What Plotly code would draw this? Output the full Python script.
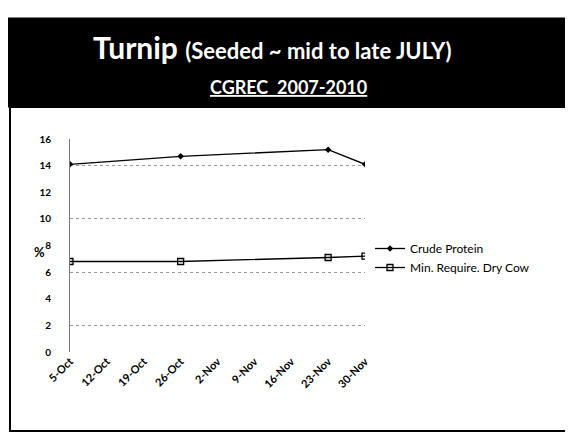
import plotly.graph_objects as go

# sample dates and values
dates = ["2009-10-05", "2009-10-26", "2009-11-23", "2009-11-30"]
crude_protein = [14.1, 14.7, 15.2, 14.1]
min_require = [6.8, 6.8, 7.1, 7.2]

tick_dates = ["2009-10-05", "2009-10-12", "2009-10-19", "2009-10-26", "2009-11-02",
              "2009-11-09", "2009-11-16", "2009-11-23", "2009-11-30"]
tick_text = ["5-Oct", "12-Oct", "19-Oct", "26-Oct", "2-Nov",
             "9-Nov", "16-Nov", "23-Nov", "30-Nov"]

# the page body keeps an 8px margin, so the figure is drawn 8px smaller
OFF = 8
W, H = 573 - OFF, 438 - OFF
FONT = "Lato"

def px_x(x):
    return (x - OFF) / W

def px_y(y):
    return 1 - (y - OFF) / H

fig = go.Figure()

fig.add_trace(go.Scatter(
    x=dates, y=crude_protein, name="Crude Protein",
    mode="lines+markers",
    line=dict(color="black", width=1.3),
    marker=dict(symbol="diamond", size=5, color="black"),
))
fig.add_trace(go.Scatter(
    x=dates, y=min_require, name="Min. Require. Dry Cow",
    mode="lines+markers",
    line=dict(color="black", width=1.3),
    marker=dict(symbol="square-open", size=6, color="black", line=dict(width=1.3)),
))
# invisible trace to carry the gridline axis
fig.add_trace(go.Scatter(x=[dates[0]], y=[0], yaxis="y2", mode="markers",
                         marker=dict(opacity=0), showlegend=False, hoverinfo="skip"))

fig.update_layout(
    width=W, height=H,
    margin=dict(l=0, r=0, t=0, b=0),
    paper_bgcolor="white",
    plot_bgcolor="rgba(0,0,0,0)",
    showlegend=True,
    legend=dict(x=px_x(370), y=px_y(234), xanchor="left", yanchor="top",
                bgcolor="rgba(0,0,0,0)", font=dict(family=FONT, size=12, color="black"),
                itemwidth=30, tracegroupgap=0),
    xaxis=dict(
        domain=[px_x(70), px_x(365)],
        type="date",
        range=["2009-10-05", "2009-11-30"],
        tickvals=tick_dates, ticktext=tick_text,
        tickangle=-45, automargin=False,
        tickfont=dict(family=FONT, size=11, color="black", weight="bold"),
        showgrid=False, showline=False, zeroline=False, ticks="",
    ),
    yaxis=dict(
        domain=[px_y(352), px_y(139)],
        range=[0, 16], dtick=2, automargin=False,
        tickfont=dict(family=FONT, size=10, color="black", weight="bold"),
        showgrid=False, zeroline=False,
        showline=True, linecolor="#777", linewidth=1,
        ticks="", ticklabelstandoff=16,
    ),
    yaxis2=dict(
        overlaying="y", range=[0, 16], tick0=2, dtick=4, automargin=False,
        showticklabels=False, showgrid=True, gridcolor="#999",
        griddash="dot", gridwidth=1, zeroline=False, ticks="",
    ),
    shapes=[
        # black title band
        dict(type="rect", xref="paper", yref="paper",
             x0=px_x(5), x1=px_x(568), y0=px_y(107), y1=px_y(18),
             fillcolor="black", line=dict(color="black", width=1), layer="below"),
        # slide frame
        dict(type="rect", xref="paper", yref="paper",
             x0=px_x(10), x1=px_x(567), y0=px_y(431), y1=px_y(107),
             fillcolor="rgba(0,0,0,0)", line=dict(color="black", width=2)),
    ],
    annotations=[
        dict(text="Turnip <span style='font-size:22px'>(Seeded ~ mid to late JULY)</span>",
             xref="paper", yref="paper", x=px_x(272), y=px_y(47), showarrow=False,
             font=dict(family=FONT, size=30, color="white", weight="bold"),
             xanchor="center", yanchor="middle"),
        dict(text="<u>CGREC  2007-2010</u>",
             xref="paper", yref="paper", x=px_x(288), y=px_y(87), showarrow=False,
             font=dict(family=FONT, size=18, color="white", weight="bold"),
             xanchor="center", yanchor="middle"),
        dict(text="%", xref="paper", yref="paper", x=px_x(32), y=px_y(252),
             showarrow=False, font=dict(family=FONT, size=13, color="black", weight="bold")),
    ],
)

fig.write_html("out.html")
